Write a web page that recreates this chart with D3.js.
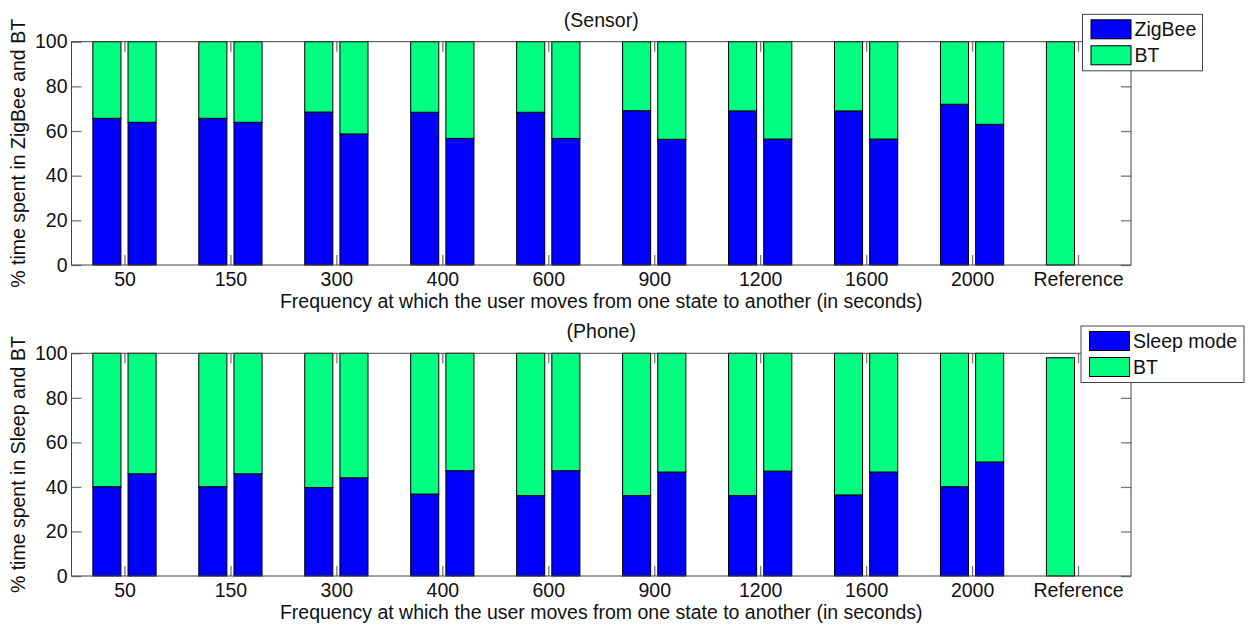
<!DOCTYPE html>
<html>
<head>
<meta charset="utf-8">
<script src="https://cdn.jsdelivr.net/npm/d3@7"></script>
<style>
  body { margin: 0; background: #fff; }
  svg { font-family: "Liberation Sans", Arial, Helvetica, sans-serif; }
</style>
</head>
<body>
<div id="chart"></div>
<script>
// values
var categories = ['50', '150', '300', '400', '600', '900', '1200', '1600', '2000', 'Reference'];
var yTicks = [0, 20, 40, 60, 80, 100];

var sensorZigbeeA = [65.7, 65.7, 68.5, 68.4, 68.4, 69.1, 69.0, 69.0, 72.0, 0];
var sensorBtA     = [34.3, 34.3, 31.5, 31.6, 31.6, 30.9, 31.0, 31.0, 28.0, 100];
var sensorZigbeeB = [63.9, 63.9, 58.7, 56.7, 56.7, 56.3, 56.4, 56.4, 63.0, null];
var sensorBtB     = [36.1, 36.1, 41.3, 43.3, 43.3, 43.7, 43.6, 43.6, 37.0, null];

var phoneSleepA = [40.1, 40.1, 39.7, 36.8, 36.1, 36.1, 36.1, 36.4, 40.1, 0];
var phoneBtA    = [59.9, 59.9, 60.3, 63.2, 63.9, 63.9, 63.9, 63.6, 59.9, 98.0];
var phoneSleepB = [45.9, 45.9, 44.1, 47.3, 47.3, 46.7, 47.1, 46.7, 51.2, null];
var phoneBtB    = [54.1, 54.1, 55.9, 52.7, 52.7, 53.3, 52.9, 53.3, 48.8, null];

var xLabel = 'Frequency at which the user moves from one state to another (in seconds)';

var W = 1256, H = 625;
var colors = ['#0000ff', '#00ff80'];
var fs = '19.5px';

var svg = d3.select('#chart').append('svg')
    .attr('width', W)
    .attr('height', H);

function drawPanel(p) {
  var x = d3.scaleLinear().domain([0.5, 10.5]).range([71.5, 1131]);
  var y = d3.scaleLinear().domain([0, 100]).range([p.bottom, p.top]);
  var off = 0.166, bw = 0.265;
  var g = svg.append('g');

  // stacked bars, two per category
  var bars = [];
  [[p.a0, p.a1, -off], [p.b0, p.b1, off]].forEach(function(s) {
    categories.forEach(function(c, i) {
      if (s[0][i] == null) return;
      bars.push({i: i + 1, dx: s[2], y0: 0, y1: s[0][i], k: 0});
      bars.push({i: i + 1, dx: s[2], y0: s[0][i], y1: s[0][i] + s[1][i], k: 1});
    });
  });

  g.selectAll('.bar')
      .data(bars)
    .enter().append('rect')
      .attr('class', 'bar')
      .attr('x', function(d) { return x(d.i + d.dx - bw / 2); })
      .attr('width', function(d) { return x(d.i + d.dx + bw / 2) - x(d.i + d.dx - bw / 2); })
      .attr('y', function(d) { return y(d.y1); })
      .attr('height', function(d) { return y(d.y0) - y(d.y1); })
      .style('fill', function(d) { return colors[d.k]; })
      .style('stroke', '#000')
      .style('stroke-width', 1);

  // axes (matlab style: inside ticks on all four sides)
  var tl = 10;
  var xb = d3.axisBottom(x).tickValues(d3.range(1, 11))
      .tickFormat(function(d) { return categories[d - 1]; })
      .tickSizeInner(-tl).tickSizeOuter(0).tickPadding(7);
  var xt = d3.axisTop(x).tickValues(d3.range(1, 11)).tickFormat('')
      .tickSizeInner(-tl).tickSizeOuter(0);
  var yl = d3.axisLeft(y).tickValues(yTicks)
      .tickSizeInner(-tl).tickSizeOuter(0).tickPadding(4);
  var yr = d3.axisRight(y).tickValues(yTicks).tickFormat('')
      .tickSizeInner(-tl).tickSizeOuter(0);

  var axes = [
    g.append('g').attr('transform', 'translate(0,' + p.bottom + ')').call(xb),
    g.append('g').attr('transform', 'translate(0,' + p.top + ')').call(xt),
    g.append('g').attr('transform', 'translate(' + x.range()[0] + ',0)').call(yl),
    g.append('g').attr('transform', 'translate(' + x.range()[1] + ',0)').call(yr)
  ];
  axes.forEach(function(a) {
    a.select('.domain').remove();
    a.selectAll('line').style('stroke', '#777').style('stroke-width', 1.3);
    a.selectAll('text').style('font-size', fs).style('fill', '#111')
        .style('font-family', '"Liberation Sans", Arial, sans-serif');
  });

  g.append('rect')
      .attr('x', x.range()[0]).attr('y', p.top)
      .attr('width', x.range()[1] - x.range()[0])
      .attr('height', p.bottom - p.top)
      .style('fill', 'none').style('stroke', '#444').style('stroke-width', 1);

  // titles
  var cx = (x.range()[0] + x.range()[1]) / 2;
  g.append('text')
      .attr('x', cx).attr('y', p.top - 15)
      .style('text-anchor', 'middle').style('font-size', fs).style('fill', '#111')
      .text(p.title);
  g.append('text')
      .attr('x', cx).attr('y', p.bottom + 43)
      .style('text-anchor', 'middle').style('font-size', fs).style('fill', '#111')
      .text(xLabel);
  g.append('text')
      .attr('transform', 'translate(25,' + (p.top + p.bottom) / 2 + ') rotate(-90)')
      .style('text-anchor', 'middle').style('font-size', fs).style('fill', '#111')
      .text(p.ylabel);

  // legend
  var legend = g.append('g')
      .attr('transform', 'translate(' + p.lx + ',' + p.ly + ')');
  legend.append('rect')
      .attr('width', p.lw).attr('height', 56.5)
      .style('fill', '#fff').style('stroke', '#444').style('stroke-width', 1);
  var item = legend.selectAll('.legend')
      .data(p.names)
    .enter().append('g')
      .attr('class', 'legend')
      .attr('transform', function(d, i) { return 'translate(8.5,' + (5.5 + i * 26) + ')'; });
  item.append('rect')
      .attr('width', 40).attr('height', 19)
      .style('fill', function(d, i) { return colors[i]; })
      .style('stroke', '#000').style('stroke-width', 1);
  item.append('text')
      .attr('x', 43.5).attr('y', 9.5).attr('dy', '.35em')
      .style('font-size', fs).style('fill', '#111')
      .text(function(d) { return d; });
}

drawPanel({
  top: 41.7, bottom: 265, title: '(Sensor)', ylabel: '% time spent in ZigBee and BT',
  a0: sensorZigbeeA, a1: sensorBtA, b0: sensorZigbeeB, b1: sensorBtB,
  names: ['ZigBee', 'BT'], lx: 1082.5, ly: 14.3, lw: 120
});
drawPanel({
  top: 353.3, bottom: 576, title: '(Phone)', ylabel: '% time spent in Sleep and BT',
  a0: phoneSleepA, a1: phoneBtA, b0: phoneSleepB, b1: phoneBtB,
  names: ['Sleep mode', 'BT'], lx: 1081, ly: 326, lw: 163
});
</script>
</body>
</html>
